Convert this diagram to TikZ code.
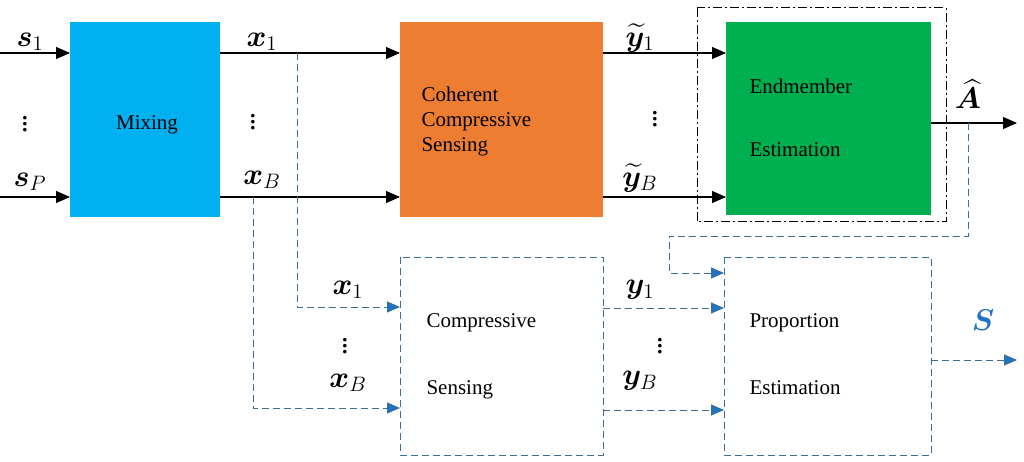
\documentclass[tikz,border=0pt]{standalone}
\usepackage{amsmath,bm}
\usepackage{fontspec}
\setmainfont{Liberation Serif}
\usetikzlibrary{arrows.meta}
\definecolor{cblue}{HTML}{00B0F0}
\definecolor{corange}{HTML}{ED7D31}
\definecolor{cgreen}{HTML}{00B050}
\definecolor{dline}{HTML}{3A6F96}
\definecolor{dtip}{HTML}{1F72C4}
\newcommand{\mth}[1]{\scalebox{1.45}{$#1$}}
\begin{document}
\begin{tikzpicture}[x=1pt,y=-1pt,
  every node/.style={font=\fontsize{21}{25}\selectfont\rmfamily},
  sol/.style={-{Triangle[length=14pt,width=12pt]},line width=1.1pt},
  dsh/.style={dashed,dash pattern=on 7pt off 4pt,draw=dline,line width=0.9pt},
  dar/.style={dsh,-{Triangle[length=13pt,width=11pt,fill=dtip]},color=dline}]
\useasboundingbox (0,0) rectangle (1024,462);
\fill[cblue] (70,22) rectangle (220,217);
\fill[corange] (400,22) rectangle (603,217);
\fill[cgreen] (726,22) rectangle (931,215);
\draw[line width=1pt,dash pattern=on 9pt off 3pt on 2pt off 3pt] (697,8) rectangle (946,222);
\draw[dsh] (400,257) rectangle (603,455);
\draw[dsh] (724,257) rectangle (931,455);
\node (mix) at (147,125) {Mixing};
\node[anchor=west,align=left] (ccs) at (418,121) {Coherent\\Compressive\\Sensing};
\node[anchor=west] (ee1) at (746,86) {Endmember};
\node[anchor=west] (ee2) at (746,150) {Estimation};
\node[anchor=west] (cs1) at (423,323) {Compressive};
\node[anchor=west] (cs2) at (423,390) {Sensing};
\node[anchor=west] (pe1) at (746,323) {Proportion};
\node[anchor=west] (pe2) at (746,388) {Estimation};
\coordinate (i1) at (0,53); \coordinate (m1) at (70,53);
\coordinate (i2) at (0,197); \coordinate (m2) at (70,197);
\coordinate (o1) at (220,53); \coordinate (c1) at (400,53);
\coordinate (o2) at (220,197); \coordinate (c2) at (400,197);
\coordinate (p1) at (603,53); \coordinate (g1) at (726,53);
\coordinate (p2) at (603,197); \coordinate (g2) at (726,197);
\coordinate (gA) at (931,123); \coordinate (eA) at (1017,123);
\draw[sol] (i1) -- (m1); \draw[sol] (i2) -- (m2);
\draw[sol] (o1) -- (c1); \draw[sol] (o2) -- (c2);
\draw[sol] (p1) -- (g1); \draw[sol] (p2) -- (g2);
\draw[sol] (gA) -- (eA);
\node at (30,42) {\mth{\bm{s}_1}};
\node at (30,182) {\mth{\bm{s}_P}};
\node at (25,120) {\mth{\vdots}};
\node at (262,42) {\mth{\bm{x}_1}};
\node at (262,180) {\mth{\bm{x}_B}};
\node at (253,118) {\mth{\vdots}};
\node at (640,38) {\mth{\widetilde{\bm{y}}_1}};
\node at (640,178) {\mth{\widetilde{\bm{y}}_B}};
\node at (655,115) {\mth{\vdots}};
\node at (968,94) {\mth{\widehat{\bm{A}}}};
\draw[dar] (297,53) -- (297,307) -- (400,307);
\draw[dar] (253,197) -- (253,408) -- (400,408);
\draw[dar] (968,123) -- (968,236) -- (669,236) -- (669,273) -- (724,273);
\draw[dar] (603,308) -- (724,308);
\draw[dar] (603,410) -- (724,410);
\draw[dar] (931,360) -- (1017,360);
\node at (348,290) {\mth{\bm{x}_1}};
\node at (348,383) {\mth{\bm{x}_B}};
\node at (345,342) {\mth{\vdots}};
\node at (640,290) {\mth{\bm{y}_1}};
\node at (640,381) {\mth{\bm{y}_B}};
\node at (660,342) {\mth{\vdots}};
\node[text=dtip] at (983,320) {\mth{\bm{S}}};
\end{tikzpicture}
\end{document}
